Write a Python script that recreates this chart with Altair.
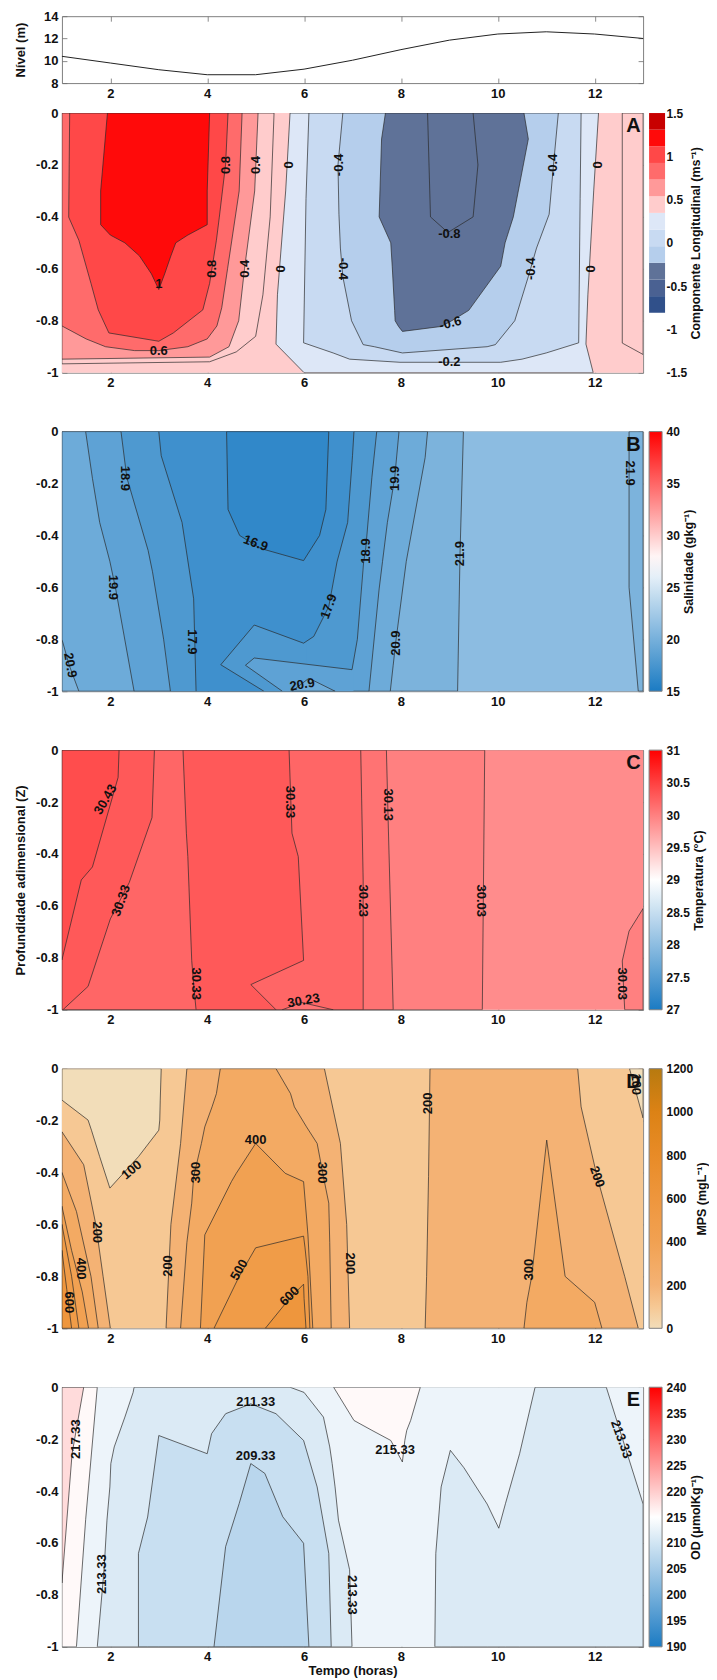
import altair as alt
import pandas as pd

FONT = "Liberation Sans, Arial, sans-serif"
LINE = "#2a2a2a"
W, H, HT = 582, 260, 67

# ---------------- top panel: water level ----------------
HOURS = [1, 2, 3, 4, 5, 6, 7, 8, 9, 10, 11, 12, 13]
NIVEL = [10.4, 9.8, 9.2, 8.75, 8.75, 9.25, 10.05, 11.0, 11.85, 12.4, 12.6, 12.4, 12.0]
TIME_TICKS = [2, 4, 6, 8, 10, 12]
NIVEL_TICKS = [8, 10, 12, 14]
DEPTH_TICKS = [0, -0.2, -0.4, -0.6, -0.8, -1]

# region = (kind, fill value, points, stroked); kind "h": (depth, t_left, t_right), "v": (t, depth_top, depth_bottom)
# ---------------- panel A: longitudinal velocity ----------------
A_CBAR = [-1.5, 1.5]
A_TICKS = [-1.5, -1.0, -0.5, 0.0, 0.5, 1.0, 1.5]
A_STEPS = [-1.5, -1.25, -1.0, -0.75, -0.5, -0.25, 0.0, 0.25, 0.5, 0.75, 1.0, 1.25, 1.5]
A_COLORS = ["#30508a", "#4a6192", "#5f7298", "#b5ceec", "#c8daf2", "#dde7f7",
            "#ffcccc", "#ff9999", "#ff6b6b", "#ff4848", "#ff0a0a", "#c80000"]
A_BASE = 0.1
A_REGIONS = [
    ("h", -0.1, [(0, 5.71, 12.08), (-0.3, 5.62, 11.98), (-0.7, 5.45, 11.86), (-0.89, 5.42, 11.82), (-1, 6.0, 11.97)], True),
    ("h", -0.3, [(0, 6.1, 11.72), (-0.33, 6.04, 11.70), (-0.885, 5.99, 11.67), (-0.924, 6.6, 11.0), (-0.948, 6.94, 10.5), (-0.96, 7.98, 10.06)], True),
    ("h", -0.6, [(0, 6.8, 11.25), (-0.2, 6.7, 11.15), (-0.39, 6.72, 11.06), (-0.52, 6.75, 10.8), (-0.63, 6.8, 10.63), (-0.8, 6.98, 10.35), (-0.892, 7.22, 9.95), (-0.9, 7.45, 9.78), (-0.924, 8.03, 8.03)], True),
    ("h", -0.9, [(0, 7.68, 10.54), (-0.1, 7.6, 10.63), (-0.4, 7.55, 10.32), (-0.5, 7.79, 10.15), (-0.59, 7.82, 10.06), (-0.76, 7.87, 9.4), (-0.8, 7.88, 9.05), (-0.822, 7.95, 8.83), (-0.841, 8.03, 8.03)], True),
    ("h", -0.9, [(0, 8.55, 9.49), (-0.2, 8.58, 9.59), (-0.4, 8.61, 9.49), (-0.46, 8.97, 8.97)], True),
    ("h", 0.2, [(0, 1, 5.38), (-0.4, 1, 5.3), (-0.7, 1, 5.15), (-0.86, 1, 5.0), (-0.92, 1, 4.6), (-0.958, 1, 4.05), (-0.966, 1, 1)], True),
    ("h", 0.2, [(0, 12.57, 13), (-0.886, 12.57, 13), (-0.93, 13, 13)], True),
    ("h", 0.45, [(0, 1, 5.05), (-0.3, 1, 4.98), (-0.6, 1, 4.77), (-0.8, 1, 4.65), (-0.9, 1, 4.45), (-0.94, 1, 4.05), (-0.948, 1, 1)], True),
    ("h", 0.6, [(0, 1, 4.72), (-0.3, 1, 4.66), (-0.6, 1, 4.42), (-0.75, 1, 4.3), (-0.82, 1, 4.2), (-0.87, 1.5, 4.0), (-0.9, 1.9, 3.6), (-0.915, 2.5, 3.0)], True),
    ("h", 0.85, [(0, 1.16, 4.43), (-0.197, 1.15, 4.38), (-0.401, 1.14, 4.25), (-0.49, 1.35, 4.19), (-0.656, 1.6, 4.05), (-0.758, 1.75, 3.91), (-0.847, 1.97, 3.3), (-0.879, 3.0, 3.0)], True),
    ("h", 1.1, [(0, 1.94, 4.05), (-0.3, 1.8, 4.0), (-0.43, 1.8, 4.0), (-0.47, 2.0, 3.6), (-0.5, 2.3, 3.35), (-0.55, 2.6, 3.25), (-0.62, 2.85, 3.12), (-0.68, 3.0, 3.0)], True),
]
A_LINES = []
A_LABELS = [
    ("0.8", 4.38, -0.2, 270), ("0.4", 5.0, -0.2, 270), ("0", 5.68, -0.2, 270), ("-0.4", 6.72, -0.2, 270),
    ("-0.4", 11.15, -0.2, 270), ("0", 12.07, -0.2, 270),
    ("0.8", 4.1, -0.6, 270), ("0.4", 4.78, -0.6, 270), ("0", 5.53, -0.6, 270), ("-0.4", 6.8, -0.6, 90),
    ("-0.4", 10.68, -0.6, 270), ("0", 11.93, -0.6, 270),
    ("1", 3.0, -0.66, 0), ("-0.8", 9.0, -0.465, 0), ("-0.6", 9.02, -0.81, 345), ("-0.2", 9.0, -0.957, 0),
    ("0.6", 3.0, -0.917, 0),
]

# ---------------- panel B: salinity ----------------
B_CBAR = [15, 40]
B_TICKS = [15, 20, 25, 30, 35, 40]
B_BASE = 21.2
B_REGIONS = [
    ("h", 20.3, [(0, 1, 9.29), (-0.47, 1, 9.22), (-1, 1, 9.17)], True),
    ("h", 20.3, [(0, 12.71, 13), (-0.6, 12.71, 13), (-1, 12.9, 13)], True),
    ("h", 19.5, [(0, 1, 8.55), (-0.1, 1, 8.5), (-0.5, 1, 8.11), (-0.8, 1, 7.9), (-0.9, 1.15, 7.84), (-1, 1.35, 7.78)], True),
    ("h", 18.7, [(0, 1.49, 7.96), (-0.18, 1.63, 7.87), (-0.35, 1.78, 7.72), (-0.5, 1.99, 7.62), (-0.606, 2.11, 7.55), (-1, 2.49, 7.34)], True),
    ("h", 17.8, [(0, 2.22, 7.5), (-0.177, 2.34, 7.4), (-0.458, 2.78, 7.27), (-0.502, 2.82, 7.23), (-0.54, 2.87, 7.2), (-0.8, 3.1, 7.1), (-0.917, 3.2, 6.99), (-1, 3.24, 6.99)], False),
    ("h", 17.0, [(0, 3.0, 7.03), (-0.093, 3.05, 7.0), (-0.35, 3.48, 6.9), (-0.502, 3.6, 6.68), (-0.644, 3.72, 6.53), (-0.674, 3.725, 6.51), (-0.789, 3.74, 6.2), (-0.815, 3.745, 5.99), (-1, 3.77, 5.99)], False),
    ("v", 17.8, [(4.28, -0.898, -0.898), (4.97, -0.745, -0.977), (5.17, -0.759, -1), (5.99, -0.815, -1), (6.05, -0.815, -1)], False),
    ("v", 18.7, [(4.79, -0.9, -0.9), (4.97, -0.872, -0.924), (5.55, -0.885, -1), (6.99, -0.917, -1), (7.02, -0.917, -1)], False),
    ("h", 19.5, [(-0.95, 6.1, 6.1), (-1, 5.75, 6.64)], True),
    ("h", 16.2, [(0, 4.40, 6.51), (-0.3, 4.43, 6.45), (-0.4, 4.67, 6.32), (-0.45, 5.1, 6.15), (-0.497, 5.99, 5.99)], True),
]
B_LINES = [
    [(3.0, 0), (3.05, -0.093), (3.48, -0.35), (3.72, -0.644), (3.77, -1)],
    [(7.03, 0), (7.0, -0.093), (6.9, -0.35), (6.68, -0.502), (6.51, -0.674), (6.2, -0.789), (5.99, -0.815),
     (4.97, -0.745), (4.28, -0.898), (5.17, -1)],
    [(2.22, 0), (2.34, -0.177), (2.78, -0.458), (2.87, -0.54), (3.1, -0.8), (3.24, -1)],
    [(7.5, 0), (7.4, -0.177), (7.27, -0.458), (7.23, -0.502), (7.1, -0.8), (6.99, -0.917), (4.97, -0.872),
     (4.79, -0.9), (5.55, -1)],
]
B_LABELS = [
    ("18.9", 2.3, -0.18, 90), ("19.9", 2.05, -0.6, 90), ("17.9", 3.68, -0.81, 90), ("16.9", 5.0, -0.43, 20),
    ("17.9", 6.51, -0.674, 290), ("18.9", 7.27, -0.46, 270), ("19.9", 7.87, -0.18, 270), ("20.9", 7.89, -0.815, 270),
    ("21.9", 9.22, -0.47, 270), ("21.9", 12.72, -0.16, 90), ("20.9", 1.17, -0.9, 80), ("20.9", 5.96, -0.975, 350),
]

# ---------------- panel C: temperature ----------------
C_CBAR = [27, 31]
C_TICKS = [27, 27.5, 28, 28.5, 29, 29.5, 30, 30.5, 31]
C_BASE = 29.9
C_REGIONS = [
    ("h", 30.0, [(0, 1, 9.73), (-1, 1, 9.68)], True),
    ("h", 30.0, [(-0.61, 13, 13), (-0.697, 12.71, 13), (-0.812, 12.57, 13), (-1, 12.62, 13)], True),
    ("h", 30.1, [(0, 1, 7.7), (-0.3, 1, 7.74), (-1, 1, 7.84)], True),
    ("h", 30.2, [(0, 1, 7.17), (-0.5, 1, 7.22), (-1, 1, 7.22)], True),
    ("h", 30.1, [(-0.972, 5.95, 5.95), (-1, 5.55, 6.6)], True),
    ("h", 30.3, [(0, 1, 2.91), (-0.26, 1, 2.86), (-0.51, 1, 2.39), (-0.65, 1, 2.0), (-0.91, 1, 1.54), (-1, 1, 1.02)], True),
    ("h", 30.3, [(0, 3.5, 5.69), (-0.32, 3.57, 5.75), (-0.41, 3.6, 5.88), (-0.81, 3.68, 5.99), (-0.903, 3.72, 4.9), (-1, 3.77, 5.42)], True),
    ("h", 30.4, [(0, 1, 2.18), (-0.105, 1, 2.16), (-0.45, 1, 1.63), (-0.5, 1, 1.4), (-0.808, 1, 1.0)], True),
]
C_LINES = []
C_LABELS = [
    ("30.43", 1.9, -0.19, 300), ("30.33", 2.22, -0.58, 290), ("30.33", 3.77, -0.9, 90), ("30.33", 5.71, -0.2, 90),
    ("30.13", 7.74, -0.21, 90), ("30.23", 7.22, -0.58, 90), ("30.03", 9.66, -0.58, 90), ("30.03", 12.57, -0.9, 90),
    ("30.23", 5.99, -0.965, 350),
]

# ---------------- panel D: suspended matter ----------------
D_CBAR = [0, 1200]
D_TICKS = [0, 200, 400, 600, 800, 1000, 1200]
D_BASE = 100
D_REGIONS = [
    ("h", 0, [(0, 1, 3.05), (-0.121, 1, 3.03), (-0.198, 1.54, 3.02), (-0.237, 1.61, 3.0), (-0.339, 1.78, 2.58), (-0.46, 1.99, 1.99)], True),
    ("h", 0, [(0, 12.72, 13), (-0.19, 13, 13)], True),
    ("h", 200, [(-0.243, 1, 1), (-0.37, 1, 1.45), (-0.6, 1, 1.7), (-0.8, 1, 1.85), (-1, 1, 2.0)], True),
    ("h", 200, [(0, 3.58, 6.42), (-0.288, 3.45, 6.75), (-0.6, 3.25, 6.88), (-1, 3.15, 6.94)], True),
    ("h", 200, [(0, 8.6, 11.65), (-0.147, 8.59, 11.72), (-0.416, 8.57, 12.05), (-0.8, 8.53, 12.62), (-1, 8.5, 12.9)], True),
    ("h", 300, [(-0.4, 1, 1), (-0.55, 1, 1.3), (-0.8, 1, 1.6), (-1, 1, 1.75)], True),
    ("h", 300, [(0, 4.27, 5.42), (-0.096, 4.19, 5.72), (-0.147, 4.1, 5.8), (-0.224, 3.95, 6.05), (-0.288, 3.88, 6.27), (-0.416, 3.72, 6.4), (-0.518, 3.68, 6.51), (-0.67, 3.58, 6.53), (-1, 3.45, 6.56)], True),
    ("h", 300, [(-0.275, 11.01, 11.01), (-0.8, 10.7, 11.39), (-0.9, 10.6, 12.0), (-1, 10.54, 12.15)], True),
    ("h", 400, [(-0.53, 1, 1), (-0.7, 1, 1.2), (-0.86, 1, 1.42), (-1, 1, 1.55)], True),
    ("h", 400, [(-0.288, 5.0, 5.0), (-0.403, 4.6, 5.61), (-0.435, 4.5, 5.99), (-0.64, 3.95, 6.08), (-1, 3.86, 6.18)], True),
    ("h", 500, [(-0.6, 1, 1), (-0.8, 1, 1.2), (-1, 1, 1.35)], True),
    ("h", 500, [(-0.645, 5.99, 5.99), (-0.69, 5.0, 6.02), (-0.8, 4.66, 6.08), (-1, 4.14, 6.12)], True),
    ("h", 600, [(-0.7, 1, 1), (-0.85, 1, 1.1), (-1, 1, 1.2)], True),
    ("h", 600, [(-0.83, 5.99, 5.99), (-0.885, 5.7, 6.0), (-1, 5.2, 6.04)], True),
]
D_LINES = []
D_LABELS = [
    ("100", 2.44, -0.39, 320), ("200", 1.73, -0.63, 90), ("400", 1.4, -0.77, 90), ("600", 1.14, -0.9, 90),
    ("200", 3.2, -0.76, 270), ("300", 3.77, -0.4, 270), ("400", 5.0, -0.275, 0), ("500", 4.66, -0.775, 300),
    ("600", 5.7, -0.876, 315), ("300", 6.37, -0.4, 90), ("200", 6.94, -0.75, 90), ("200", 8.55, -0.134, 270),
    ("300", 10.65, -0.774, 270), ("200", 12.05, -0.416, 70), ("100", 12.86, -0.06, 90),
]

# ---------------- panel E: dissolved oxygen ----------------
E_CBAR = [190, 240]
E_TICKS = [190, 195, 200, 205, 210, 215, 220, 225, 230, 235, 240]
E_BASE = 213.0
E_REGIONS = [
    ("h", 211.0, [(0, 2.49, 5.71), (-0.02, 2.47, 6.0), (-0.115, 2.3, 6.4), (-0.23, 2.08, 6.53), (-0.294, 2.01, 6.58), (-0.384, 1.99, 6.64), (-0.512, 1.93, 6.71), (-0.703, 1.87, 6.94), (-1, 1.73, 6.99)], True),
    ("v", 211.0, [(8.70, -1, -1), (8.72, -0.64, -1), (8.83, -0.384, -1), (9.02, -0.243, -1), (9.3, -0.31, -1), (9.78, -0.45, -1), (10.02, -0.543, -1), (10.16, -0.447, -1), (10.45, -0.256, -1), (10.77, 0, -1), (12.24, 0, -1), (12.52, -0.166, -1), (13, -0.45, -1)], True),
    ("v", 209.0, [(2.58, -0.64, -1), (2.77, -0.5, -1), (3.0, -0.186, -1), (4.0, -0.256, -1), (4.09, -0.179, -1), (4.38, -0.102, -1), (4.9, -0.064, -1), (5.42, -0.102, -1), (5.99, -0.205, -1), (6.27, -0.384, -1), (6.51, -0.64, -1), (6.56, -1, -1)], True),
    ("v", 207.3, [(4.14, -1, -1), (4.38, -0.614, -1), (4.66, -0.448, -1), (4.9, -0.294, -1), (5.19, -0.332, -1), (5.56, -0.499, -1), (5.99, -0.601, -1), (6.1, -1, -1)], True),
    ("h", 215.6, [(0, 6.61, 8.4), (-0.128, 7.03, 8.2), (-0.166, 7.4, 8.12), (-0.205, 7.79, 8.08), (-0.288, 8.03, 8.03)], True),
    ("h", 215.6, [(0, 1, 1.73), (-0.51, 1, 1.49), (-1, 1, 1.3)], True),
    ("h", 218.5, [(0, 1, 1.45), (-0.256, 1, 1.21), (-0.754, 1, 1.0)], True),
]
E_LINES = []
E_LABELS = [
    ("217.33", 1.3, -0.2, 270), ("213.33", 1.82, -0.72, 270), ("211.33", 5.0, -0.057, 0), ("209.33", 5.0, -0.265, 0),
    ("215.33", 7.88, -0.243, 0), ("213.33", 6.98, -0.8, 90), ("213.33", 12.55, -0.2, 70),
]

XS = alt.Scale(domain=[1, 13], nice=False, zero=False)
YS = alt.Scale(domain=[-1, 0], nice=False, zero=False)
NUM_LABEL = "toString(datum.value)"
TXT = dict(labelFont=FONT, labelFontSize=13, labelFontWeight="bold", labelColor="#111",
           titleFont=FONT, titleFontSize=13, titleFontWeight="bold", titleColor="#111",
           ticks=False, domain=False, grid=False)


def xaxis(title=" ", tfs=25, tpad=4):
    d = dict(TXT)
    d.update(titleFontSize=tfs)
    return alt.Axis(values=TIME_TICKS, title=title, labelPadding=4, titlePadding=tpad, **d)


def yaxis(title, values):
    return alt.Axis(values=values, title=title, labelPadding=4, minExtent=30, maxExtent=30,
                    titlePadding=4, labelExpr=NUM_LABEL, **TXT)


def tick_axis(orient, values):
    # small inward ticks (axis moved inside the frame)
    return alt.Axis(orient=orient, values=values, labels=False, ticks=True, tickSize=5, tickColor="#6e6e6e",
                    tickWidth=0.8, domain=False, grid=False, title=None, offset=-5, minExtent=0, maxExtent=0)


def cbar_legend(values):
    return alt.Legend(title=None, orient="none", legendX=W + 6, legendY=0, direction="vertical",
                      gradientLength=H, gradientThickness=13, values=values, labelExpr="''",
                      gradientStrokeColor="#808080", gradientStrokeWidth=1, padding=0)


def cbar_axis(domain, ticks, title):
    df = pd.DataFrame({"c": domain})
    d = dict(TXT)
    d.update(labelFontSize=12, titleFontSize=12.5)
    return alt.Chart(df).mark_point(opacity=0, size=1).encode(
        y=alt.Y("c:Q", scale=alt.Scale(domain=domain, nice=False, zero=False),
                axis=alt.Axis(orient="right", values=ticks, title=title, offset=19, labelPadding=4,
                              titleAngle=270, titleBaseline="top", titlePadding=3, minExtent=0,
                              labelExpr=NUM_LABEL, labelBaseline="middle", labelFlush=False, **d)))


def panel(base_v, regions, lines, labels, letter, cscale, legvals, ytitle, xax, cdom, cticks, ctitle):
    color = alt.Color("v:Q", scale=cscale, legend=cbar_legend(legvals))
    base_df = pd.DataFrame({"d": [0, -1], "x1": [1, 1], "x2": [13, 13], "v": [base_v, base_v]})
    layers = [alt.Chart(base_df).mark_area(orient="horizontal").encode(
        y=alt.Y("d:Q", scale=YS, axis=yaxis(ytitle, DEPTH_TICKS)),
        x=alt.X("x1:Q", scale=XS, axis=xax), x2="x2:Q", color=color)]
    for kind, val, pts, stroked in regions:
        sw = 0.7 if stroked else 0
        if kind == "h":
            df = pd.DataFrame(pts, columns=["d", "x1", "x2"])
            df["v"] = val
            layers.append(alt.Chart(df).mark_area(orient="horizontal", stroke=LINE, strokeWidth=sw, clip=True).encode(
                y=alt.Y("d:Q", scale=YS, axis=None), x=alt.X("x1:Q", scale=XS, axis=None), x2="x2:Q", color=color))
        else:
            df = pd.DataFrame(pts, columns=["t", "y1", "y2"])
            df["v"] = val
            layers.append(alt.Chart(df).mark_area(orient="vertical", stroke=LINE, strokeWidth=sw, clip=True).encode(
                x=alt.X("t:Q", scale=XS, axis=None), y=alt.Y("y1:Q", scale=YS, axis=None), y2="y2:Q", color=color))
    if lines:
        rows = []
        for k, ln in enumerate(lines):
            for i, (t, d) in enumerate(ln):
                rows.append({"lid": k, "i": i, "t": t, "d": d})
        layers.append(alt.Chart(pd.DataFrame(rows)).mark_line(color=LINE, strokeWidth=0.7, clip=True).encode(
            x=alt.X("t:Q", scale=XS, axis=None), y=alt.Y("d:Q", scale=YS, axis=None),
            detail="lid:N", order="i:Q"))
    lab_df = pd.DataFrame(labels, columns=["s", "t", "d", "a"])
    layers.append(alt.Chart(lab_df).mark_text(font=FONT, fontSize=13, fontWeight="bold", color="#111").encode(
        x=alt.X("t:Q", scale=XS, axis=tick_axis("top", TIME_TICKS)),
        y=alt.Y("d:Q", scale=YS, axis=tick_axis("left", DEPTH_TICKS)), text="s:N",
        angle=alt.Angle("a:Q", scale=None)))
    let_df = pd.DataFrame({"s": [letter], "t": [12.8], "d": [-0.05]})
    layers.append(alt.Chart(let_df).mark_text(font=FONT, fontSize=20, fontWeight="bold", color="#111").encode(
        x=alt.X("t:Q", scale=XS, axis=tick_axis("bottom", TIME_TICKS)),
        y=alt.Y("d:Q", scale=YS, axis=tick_axis("right", DEPTH_TICKS)), text="s:N"))
    layers.append(cbar_axis(cdom, cticks, ctitle))
    return alt.layer(*layers).resolve_scale(y="independent").resolve_axis(x="independent").properties(width=W, height=H)


top_df = pd.DataFrame({"h": HOURS, "n": NIVEL})
NS = alt.Scale(domain=[8, 14], nice=False, zero=False)
top_line = alt.Chart(top_df).mark_line(color="#222", strokeWidth=1).encode(
    x=alt.X("h:Q", scale=XS, axis=xaxis(None, 13, 4)),
    y=alt.Y("n:Q", scale=NS, axis=yaxis("Nível (m)", NIVEL_TICKS)))
top_t1 = alt.Chart(top_df).mark_line(opacity=0).encode(
    x=alt.X("h:Q", scale=XS, axis=tick_axis("top", TIME_TICKS)),
    y=alt.Y("n:Q", scale=NS, axis=tick_axis("left", NIVEL_TICKS)))
top_t2 = alt.Chart(top_df).mark_line(opacity=0).encode(
    x=alt.X("h:Q", scale=XS, axis=tick_axis("bottom", TIME_TICKS)),
    y=alt.Y("n:Q", scale=NS, axis=tick_axis("right", NIVEL_TICKS)))
top = alt.layer(top_line, top_t1, top_t2).resolve_axis(x="independent", y="independent").properties(width=W, height=HT)

A_SCALE = alt.Scale(type="quantize", domain=A_CBAR, range=A_COLORS, nice=False, zero=False)
BR = ["#1b7bc3", "#ffffff", "#ff0000"]

pA = panel(A_BASE, A_REGIONS, A_LINES, A_LABELS, "A", A_SCALE, A_STEPS, " ", xaxis(),
           A_CBAR, A_TICKS, "Componente Longitudinal (ms⁻¹)")
pB = panel(B_BASE, B_REGIONS, B_LINES, B_LABELS, "B",
           alt.Scale(domain=[15, 27.5, 40], range=BR, interpolate="rgb", zero=False, nice=False),
           B_TICKS, " ", xaxis(), B_CBAR, B_TICKS, "Salinidade (gkg⁻¹)")
pC = panel(C_BASE, C_REGIONS, C_LINES, C_LABELS, "C",
           alt.Scale(domain=[27, 29, 31], range=BR, interpolate="rgb", zero=False, nice=False),
           C_TICKS, "Profundidade adimensional (Z)", xaxis(), C_CBAR, C_TICKS, "Temperatura (°C)")
pD = panel(D_BASE, D_REGIONS, D_LINES, D_LABELS, "D",
           alt.Scale(domain=[0, 100, 200, 400, 600, 800, 1000, 1200],
                     range=["#f2ddb9", "#f6c894", "#f4b274", "#f1a152", "#ee963d", "#e88b27", "#dc8215", "#b77a0f"],
                     interpolate="rgb", zero=False, nice=False),
           D_TICKS, " ", xaxis(), D_CBAR, D_TICKS, "MPS (mgL⁻¹)")
pE = panel(E_BASE, E_REGIONS, E_LINES, E_LABELS, "E",
           alt.Scale(domain=[190, 215, 240], range=BR, interpolate="rgb", zero=False, nice=False),
           E_TICKS, " ", xaxis("Tempo (horas)", 13, 1), E_CBAR, E_TICKS, "OD (μmolKg⁻¹)")

chart = alt.vconcat(top, pA, pB, pC, pD, pE, spacing=5).resolve_scale(
    x="independent", y="independent", color="independent"
).configure_view(stroke="#808080", strokeWidth=1).configure_legend(
    gradientVerticalMaxLength=H, gradientVerticalMinLength=H
).properties(padding={"left": 6, "top": 0, "right": 0, "bottom": 0})

chart.save("out.html", embed_options={"renderer": "svg", "actions": False})
